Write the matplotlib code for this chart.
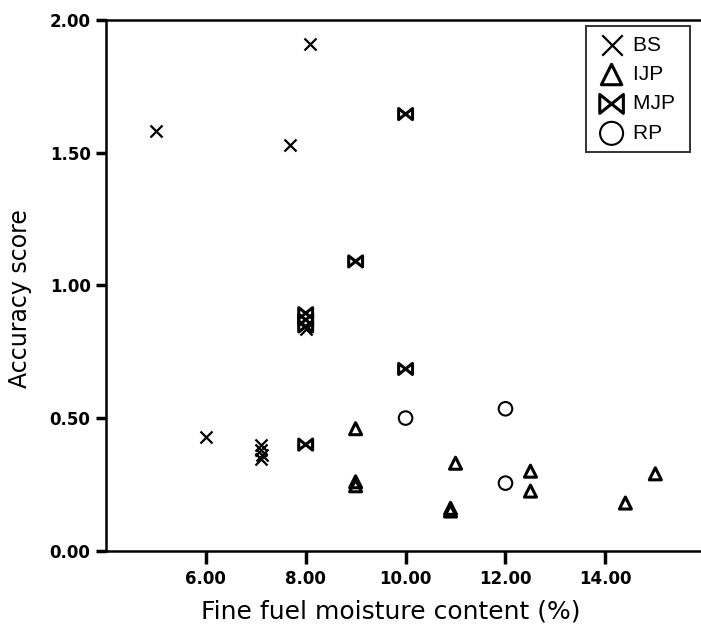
import matplotlib
matplotlib.use("Agg")
import matplotlib.pyplot as plt
from matplotlib.path import Path

plt.rcParams['font.family'] = ['DejaVu Sans']

# data
bs_x = [5.0, 8.08, 7.68, 6.0, 7.1, 7.1, 7.12, 7.1, 8.0]
bs_y = [1.58, 1.91, 1.53, 0.43, 0.40, 0.38, 0.36, 0.345, 0.835]
ijp_x = [9.0, 9.0, 9.0, 11.0, 10.9, 10.9, 12.5, 12.5, 14.4, 15.0]
ijp_y = [0.46, 0.26, 0.245, 0.33, 0.15, 0.16, 0.30, 0.225, 0.18, 0.29]
mjp_x = [10.0, 9.0, 8.0, 8.0, 8.0, 10.0, 8.0]
mjp_y = [1.645, 1.09, 0.895, 0.87, 0.845, 0.685, 0.40]
rp_x = [10.0, 12.0, 12.0]
rp_y = [0.50, 0.535, 0.255]

xticks = [6, 8, 10, 12, 14]
yticks = [0.0, 0.5, 1.0, 1.5, 2.0]

# bowtie marker for MJP
bowtie = Path([(-1, -0.8), (-1, 0.8), (0, 0), (1, 0.8), (1, -0.8), (0, 0), (-1, -0.8)],
              [Path.MOVETO, Path.LINETO, Path.LINETO, Path.LINETO, Path.LINETO, Path.LINETO, Path.CLOSEPOLY])

fig = plt.figure(figsize=(7.01, 6.39), dpi=100)
ax = fig.add_axes([0.151, 0.138, 0.848, 0.831])

ax.scatter(bs_x, bs_y, marker='x', s=75, c='black', linewidths=1.6, label='BS ')
ax.scatter(ijp_x, ijp_y, marker='^', s=75, facecolors='none', edgecolors='black', linewidths=2.2, label='IJP ')
ax.scatter(mjp_x, mjp_y, marker=bowtie, s=100, facecolors='none', edgecolors='black', linewidths=2.2, label='MJP ')
ax.scatter(rp_x, rp_y, marker='o', s=95, facecolors='none', edgecolors='black', linewidths=1.5, label='RP ')

ax.set_xlim(4.0, 15.9)
ax.set_ylim(0, 2.0)
ax.set_xticks(xticks)
ax.set_xticklabels([f"{t:.2f}" for t in xticks], fontsize=12, fontweight='bold')
ax.set_yticks(yticks)
ax.set_yticklabels([f"{t:.2f}" for t in yticks], fontsize=12, fontweight='bold')
ax.tick_params(axis='y', direction='out', length=7, width=2.5, pad=4)
ax.tick_params(axis='x', direction='out', length=9, width=2.5, pad=5)

ax.spines['right'].set_visible(False)
for s in ['left', 'top', 'bottom']:
    ax.spines[s].set_linewidth(1.8)

ax.set_xlabel('Fine fuel moisture content (%)', fontsize=18)
ax.xaxis.set_label_coords(0.48, -0.092)
ax.set_ylabel('Accuracy score', fontsize=17)
ax.yaxis.set_label_coords(-0.124, 0.475)

leg = ax.legend(loc='upper right', bbox_to_anchor=(0.983, 0.988), frameon=True,
                prop={'family': 'Liberation Sans', 'size': 15},
                fancybox=False, edgecolor='black', handletextpad=0.25, borderpad=0.45,
                labelspacing=0.5, handlelength=1.6, markerscale=1.7, borderaxespad=0)
leg.get_frame().set_linewidth(1.4)

fig.savefig('out.png', dpi=100)
